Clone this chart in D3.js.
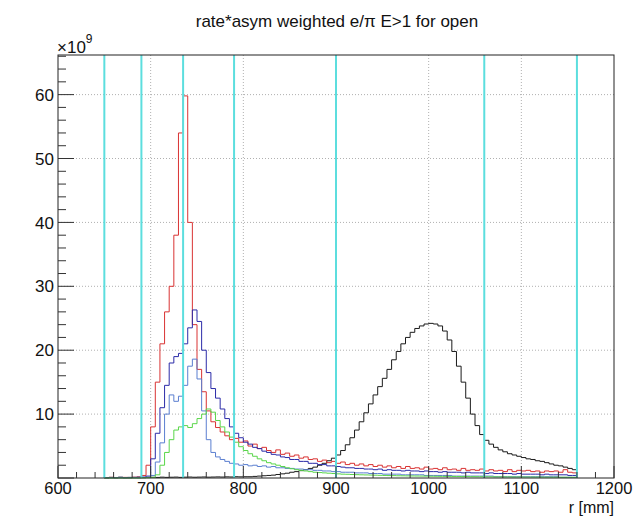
<!DOCTYPE html>
<html>
<head>
<meta charset="utf-8">
<script src="https://cdn.jsdelivr.net/npm/d3@7"></script>
<style>
html,body{margin:0;padding:0;background:#fff;}
svg{display:block;font-family:"Liberation Sans",Arial,Helvetica,sans-serif;}
</style>
</head>
<body>
<svg id="c" width="638" height="516"></svg>
<script>
// ---- data (values in units of 1e9) ----
const title = "rate*asym weighted e/\u03c0 E>1 for open";
const xLabel = "r [mm]";
const xTickValues = [600, 700, 800, 900, 1000, 1100, 1200];
const yTickValues = [10, 20, 30, 40, 50, 60];
const cutLines = [650, 690, 735, 790, 900, 1060, 1160];
const binLow = 650, binWidth = 5; // histogram bins 650..1160 mm
const redVals = [
  0.05,0.1,0.05,0.08,0.1,0.05,0.12,0.15,
  0.4,2.0,
  8,15,21,26,30,38,54,59.8,40,24,
  17,13.5,10.5,8.8,7.9,7.2,6.6,6.0,6.2,5.6,
  5.8,5.0,5.3,4.6,4.8,4.3,4.0,4.4,3.7,3.9,3.4,3.6,3.1,3.3,2.9,3.0,2.6,2.8,2.4,2.6,2.3,2.5,2.1,2.3,2.0,2.2,
  1.9,2.1,1.8,2.0,1.7,1.9,1.6,1.8,1.5,1.8,
  1.5,1.6,1.4,1.7,1.4,1.5,1.3,1.6,1.3,1.4,
  1.2,1.5,1.2,1.3,1.2,1.4,1.1,1.3,1.1,1.2,
  1.0,1.3,1.0,1.2,1.1,1.2,1.0,1.1,0.9,1.1,
  1.0,1.1,0.9,1.3,0.9,0.8
];
const navyVals = [
  0.05,0.08,0.05,0.1,0.06,0.08,0.1,0.12,0.15,0.3,
  3,7,11,14.5,18,19,19.5,21,23.5,26.3,
  24.5,20,16.5,14,12.5,10.8,9.3,8,7,6.3,
  5.6,5.3,4.8,4.6,4.2,4.0,3.7,3.6,3.3,3.2,2.9,2.9,2.6,2.6,2.3,2.3,2.1,2.1,1.9,1.9,1.8,1.7,1.6,1.6,1.5,1.5,
  1.4,1.4,1.3,1.4,1.2,1.3,1.2,1.2,1.1,1.2,
  1.1,1.1,1.0,1.1,1.0,1.0,0.9,1.0,0.9,0.9,
  0.9,0.8,0.9,0.8,0.8,0.8,0.7,0.8,0.7,0.7,
  0.7,0.7,0.6,0.7,0.6,0.6,0.6,0.6,0.5,0.6,
  0.5,0.5,0.5,0.5,0.4,0.4
];
const lightBlueVals = [
  0.02,0.03,0.02,0.04,0.03,0.02,0.05,0.04,0.06,0.1,
  0.4,2.5,5.5,10,13,12,12.8,14.5,17.5,18.6,
  15.5,10.5,6,4,3.3,2.9,2.6,2.3,2.2,2.0,
  2.1,1.9,2.0,1.8,1.9,1.7,1.8,1.6,1.6,1.5,
  1.5,1.4,1.4,1.3,1.3,1.2,1.2,1.1,1.1,1.0,
  1.0,0.9,0.9,0.9,0.8,0.8,0.8,0.7,0.7,0.7,
  0.6,0.6,0.6,0.6,0.5,0.5,0.5,0.5,0.5,0.4,
  0.4,0.4,0.4,0.4,0.4,0.3,0.3,0.3,0.3,0.3,
  0.3,0.3,0.3,0.3,0.2,0.2,0.2,0.2,0.2,0.2,
  0.2,0.2,0.2,0.2,0.2,0.2,0.2,0.2,0.1,0.1,
  0.1,0.1
];
const greenVals = [
  0,0,0,0,0,0,0,0,0.02,0.05,0.1,
  0.5,2,4,6,7.5,8,8.2,7.9,8.5,
  9.3,10,10.8,10.3,9,8,7.2,6.4,5.6,4.9,
  4.3,3.8,3.4,3.0,2.7,2.4,2.2,2.0,1.8,1.6,
  1.45,1.3,1.2,1.1,1.0,0.9,0.85,0.8,0.75,0.7,
  0.65,0.6,0.58,0.55,0.52,0.5,0.48,0.46,0.44,0.42,
  0.4,0.38,0.37,0.35,0.34,0.33,0.32,0.31,0.3,0.29,
  0.28,0.27,0.26,0.25,0.25,0.24,0.23,0.22,0.22,0.21,
  0.2,0.2,0.19,0.19,0.18,0.18,0.17,0.17,0.16,0.16,
  0.15,0.15,0.15,0.14,0.14,0.13,0.13,0.13,0.12,0.12,
  0.12,0.11
];
const blackVals = [
  0.05,0.1,0.08,0.12,0.06,0.1,0.09,0.12,0.08,0.1,
  0.11,0.09,0.13,0.1,0.12,0.14,0.1,0.13,0.15,0.12,
  0.14,0.16,0.13,0.15,0.17,0.15,0.18,0.16,0.2,0.18,
  0.2,0.2,0.25,0.3,0.35,0.4,0.45,0.55,0.65,0.75,
  0.9,1.0,1.15,1.3,1.5,1.7,2.0,2.3,2.7,3.1,
  3.6,4.3,5.2,6.3,7.5,8.8,10.2,11.6,13.0,14.3,
  15.6,17.0,18.5,19.8,21.0,22.0,22.8,23.4,23.8,24.1,
  24.2,24.1,23.8,23.0,21.6,19.8,17.5,15.0,12.5,10.0,
  8.2,6.8,5.9,5.3,4.8,4.4,4.1,3.8,3.6,3.4,
  3.2,3.0,2.9,2.7,2.6,2.4,2.2,2.0,1.9,1.7,1.5,1.3
];
const series = [
  {name:"black", vals: blackVals, color:"#1a1a1a"},
  {name:"red", vals: redVals, color:"#d93333"},
  {name:"navy", vals: navyVals, color:"#2b2ba8"},
  {name:"lightblue", vals: lightBlueVals, color:"#5b7fd0"},
  {name:"green", vals: greenVals, color:"#5ad64a"}
];

// ---- layout ----
const L = 58, R = 614, T = 55, B = 478;
const svg = d3.select("#c");
const x = d3.scaleLinear().domain([600, 1200]).range([L, R]);
const y = d3.scaleLinear().domain([0, 66.2]).range([B, T]);

// grid
const g = svg.append("g");
g.selectAll(".gx").data(xTickValues.filter(v => v > 600 && v < 1200)).enter()
  .append("line").attr("x1", d => x(d)).attr("x2", d => x(d)).attr("y1", T).attr("y2", B)
  .attr("stroke", "#b0b0b0").attr("stroke-width", 1).attr("stroke-dasharray", "1,2");
g.selectAll(".gy").data(yTickValues).enter()
  .append("line").attr("x1", L).attr("x2", R).attr("y1", d => y(d)).attr("y2", d => y(d))
  .attr("stroke", "#b0b0b0").attr("stroke-width", 1).attr("stroke-dasharray", "1,2");

// histograms
const line = d3.line().x(d => x(d[0])).y(d => y(d[1])).curve(d3.curveStepAfter);
series.forEach(s => {
  const pts = s.vals.map((v, i) => [binLow + i * binWidth, v]);
  pts.push([binLow + s.vals.length * binWidth, s.vals[s.vals.length - 1]]);
  svg.append("path").attr("d", line(pts)).attr("fill", "none")
    .attr("stroke", s.color).attr("stroke-width", 1);
});

// cyan lines
svg.selectAll(".cut").data(cutLines).enter().append("line")
  .attr("x1", d => x(d)).attr("x2", d => x(d)).attr("y1", T).attr("y2", B)
  .attr("stroke", "#5cdede").attr("stroke-width", 2);

// frame
svg.append("rect").attr("x", L).attr("y", T).attr("width", R - L).attr("height", B - T)
  .attr("fill", "none").attr("stroke", "#222").attr("stroke-width", 1);

// x ticks (inside, upward)
const xMinor = d3.range(600, 1201, 20);
svg.selectAll(".xt").data(xMinor).enter().append("line")
  .attr("x1", d => x(d)).attr("x2", d => x(d)).attr("y1", B)
  .attr("y2", d => B - (d % 100 === 0 ? 12 : 6))
  .attr("stroke", "#333").attr("stroke-width", 1);
// y ticks (inside, rightward)
const yMinor = d3.range(0, 66.2, 2);
svg.selectAll(".yt").data(yMinor).enter().append("line")
  .attr("y1", d => y(d)).attr("y2", d => y(d)).attr("x1", L)
  .attr("x2", d => L + (d % 10 === 0 ? 16 : 8))
  .attr("stroke", "#333").attr("stroke-width", 1);

// tick labels
svg.selectAll(".xl").data(xTickValues).enter().append("text")
  .attr("x", d => x(d)).attr("y", 494).attr("text-anchor", "middle")
  .attr("font-size", 16.5).attr("fill", "#111").text(d => d);
svg.selectAll(".yl").data(yTickValues).enter().append("text")
  .attr("x", 54).attr("y", d => y(d)).attr("dy", "0.36em").attr("text-anchor", "end")
  .attr("font-size", 17).attr("fill", "#111").text(d => d);

// exponent
const ex = svg.append("text").attr("x", 57).attr("y", 53).attr("font-size", 17).attr("fill", "#111");
ex.append("tspan").text("\u00d710");
ex.append("tspan").attr("dy", -10).attr("font-size", 12).text("9");

// axis title
svg.append("text").attr("x", R).attr("y", 513).attr("text-anchor", "end")
  .attr("font-size", 16).attr("fill", "#111").text(xLabel);

// title
svg.append("text").attr("x", 337).attr("y", 27).attr("text-anchor", "middle")
  .attr("font-size", 17).attr("fill", "#111").text(title);
</script>
</body>
</html>
